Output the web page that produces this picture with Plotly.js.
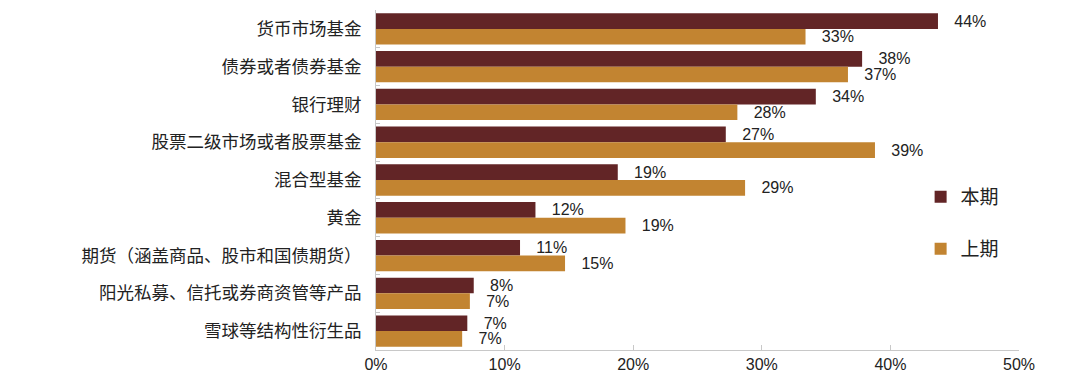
<!DOCTYPE html>
<html>
<head>
<meta charset="utf-8">
<script src="https://cdn.plot.ly/plotly-3.0.1.min.js"></script>
<style>html,body{margin:0;padding:0;background:#fff;}#chart{width:1080px;height:389px;}</style>
</head>
<body>
<div id="chart"></div>
<script>
const categories = ["货币市场基金","债券或者债券基金","银行理财","股票二级市场或者股票基金","混合型基金","黄金","期货（涵盖商品、股市和国债期货）","阳光私募、信托或券商资管等产品","雪球等结构性衍生品"];
const current = [43.7, 37.8, 34.2, 27.2, 18.8, 12.4, 11.2, 7.6, 7.1];
const previous = [33.4, 36.7, 28.1, 38.8, 28.7, 19.4, 14.7, 7.3, 6.7];
const xTickVals = [0, 10, 20, 30, 40, 50];
const xTickText = ["0%", "10%", "20%", "30%", "40%", "50%"];

const labelFont = {family: "Liberation Sans, Arial, sans-serif", size: 16, color: "#222"};
const traces = [
  {type: "bar", orientation: "h", name: "本期", y: categories, x: current,
   marker: {color: "#622526"}, text: current.map(v => "   " + Math.round(v) + "%"),
   textposition: "outside", constraintext: "none", textfont: labelFont, cliponaxis: false, legend: "legend"},
  {type: "bar", orientation: "h", name: "上期", y: categories, x: previous,
   marker: {color: "#C28431"}, text: previous.map(v => "   " + Math.round(v) + "%"),
   textposition: "outside", constraintext: "none", textfont: labelFont, cliponaxis: false, legend: "legend2"}
];
const legendFont = {family: "Noto Sans CJK SC, sans-serif", size: 19, color: "#222"};
const layout = {
  width: 1080, height: 389,
  margin: {l: 376, r: 61, t: 10, b: 39},
  paper_bgcolor: "#fff", plot_bgcolor: "#fff",
  barmode: "group", bargap: 0.17, bargroupgap: 0,
  uniformtext: {mode: false},
  xaxis: {range: [0, 50], tickvals: xTickVals, ticktext: xTickText, showgrid: false, zeroline: false,
    showline: true, linecolor: "#c8c8c8", linewidth: 1, ticks: "inside", ticklen: 5, tickcolor: "#c8c8c8",
    tickfont: {family: "Liberation Sans, Arial, sans-serif", size: 16, color: "#222"}, fixedrange: true},
  yaxis: {autorange: "reversed", showgrid: false, zeroline: false, showline: true, linecolor: "#c8c8c8",
    ticks: "inside", ticklen: 4, tickcolor: "#c8c8c8", tickson: "boundaries", ticklabelstandoff: 10,
    tickfont: {family: "Noto Sans CJK SC, sans-serif", size: 17.5, color: "#222"}},
  showlegend: true,
  legend: {x: 0.847, xanchor: "left", y: 0.45, yanchor: "middle",
    font: legendFont, itemwidth: 30, bgcolor: "rgba(0,0,0,0)"},
  legend2: {x: 0.847, xanchor: "left", y: 0.297, yanchor: "middle",
    font: legendFont, itemwidth: 30, bgcolor: "rgba(0,0,0,0)"},
  font: {family: "Noto Sans CJK SC, sans-serif"}
};
Plotly.newPlot("chart", traces, layout, {displayModeBar: false, staticPlot: true});
</script>
</body>
</html>
